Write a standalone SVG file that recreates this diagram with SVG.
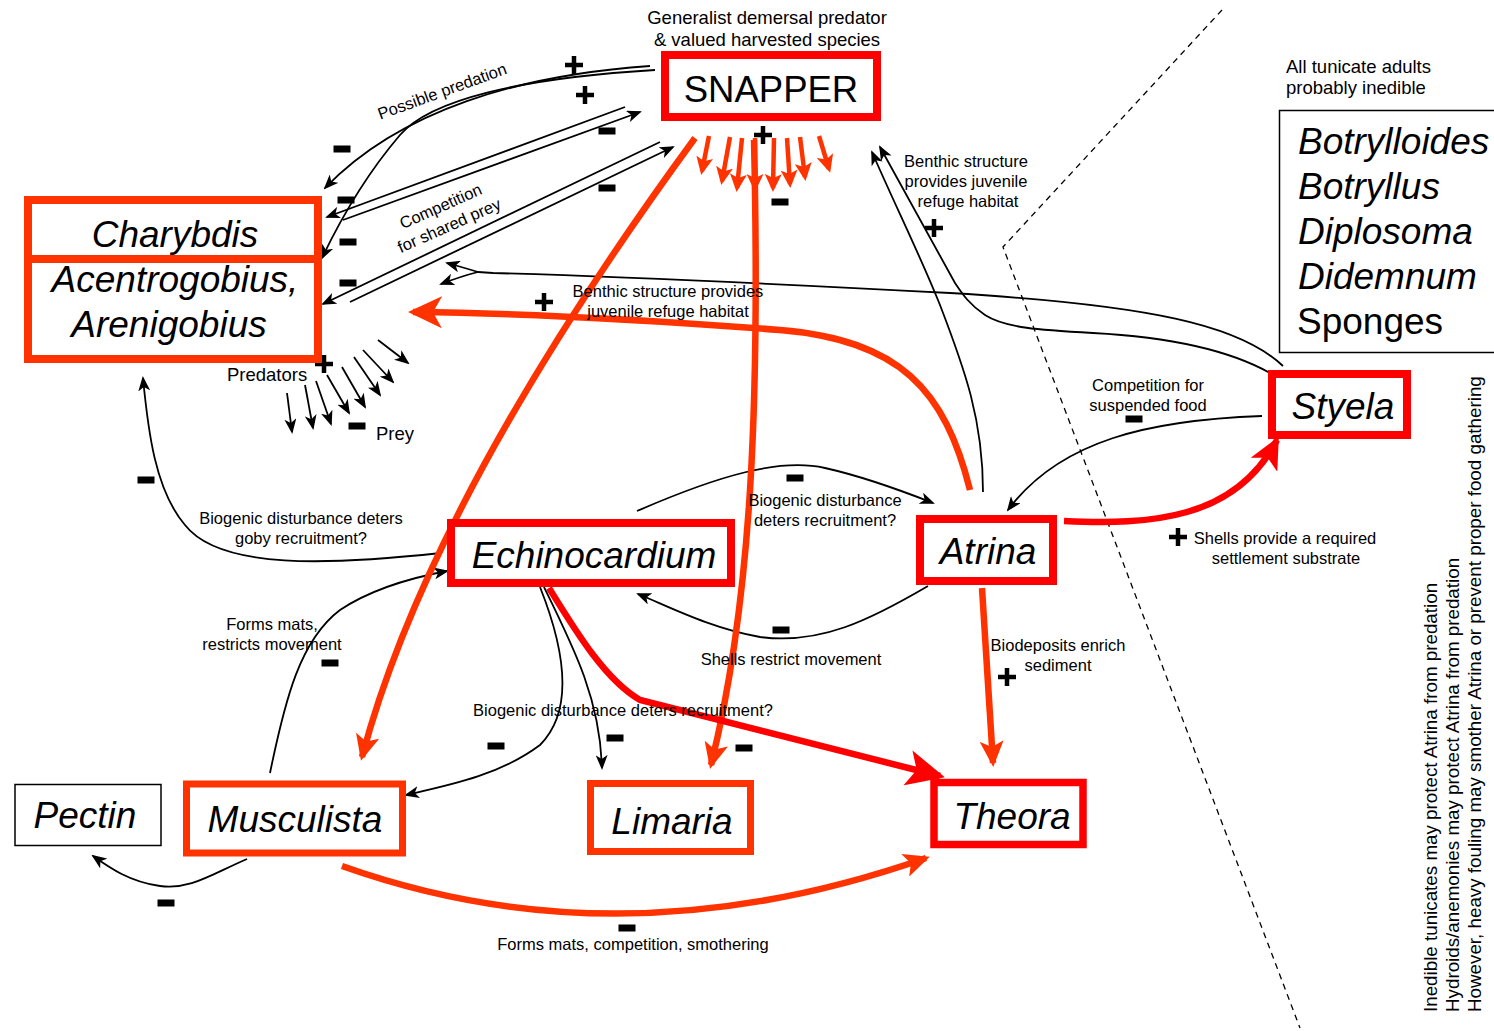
<svg xmlns="http://www.w3.org/2000/svg" width="1494" height="1031" viewBox="0 0 1494 1031">
<style>
text{font-family:"Liberation Sans",Arial,sans-serif;fill:#000}
.lb{font-size:16.5px}
.tl{font-size:18.5px}
.sd{font-size:18.8px}
.nd{font-size:37px;font-style:italic}
.bk{fill:none;stroke:#000;stroke-width:1.8}
.or{fill:none;stroke:#ff3300;stroke-width:6.5}
.rd{fill:none;stroke:#ff0000;stroke-width:6.5}
.fo{fill:none;stroke:#ff3300;stroke-width:4.5}
.bo{fill:#fff;stroke:#ff3300;stroke-width:8}
.br{fill:#fff;stroke:#ff0000;stroke-width:8}
</style>
<defs>
<marker id="ab" markerUnits="userSpaceOnUse" markerWidth="15" markerHeight="12" refX="13" refY="6" orient="auto" viewBox="0 0 15 12"><path d="M0,0 L15,6 L0,12 L4,6 z" fill="#000"/></marker>
<marker id="as" markerUnits="userSpaceOnUse" markerWidth="18" markerHeight="17" refX="14" refY="8.5" orient="auto" viewBox="0 0 18 17"><path d="M0,0 L18,8.5 L0,17 L4,8.5 z" fill="#ff3300"/></marker>
<marker id="ao" markerUnits="userSpaceOnUse" markerWidth="26" markerHeight="24" refX="22" refY="12" orient="auto" viewBox="0 0 26 24"><path d="M0,0 L26,12 L0,24 L6,12 z" fill="#ff3300"/></marker>
<marker id="aol" markerUnits="userSpaceOnUse" markerWidth="34" markerHeight="32" refX="29" refY="16" orient="auto" viewBox="0 0 34 32"><path d="M0,0 L34,16 L0,32 L9,16 z" fill="#ff3300"/></marker>
<marker id="ar" markerUnits="userSpaceOnUse" markerWidth="38" markerHeight="36" refX="33" refY="18" orient="auto" viewBox="0 0 38 36"><path d="M0,0 L38,18 L0,36 L9,18 z" fill="#ff0000"/></marker>
<marker id="ar2" markerUnits="userSpaceOnUse" markerWidth="32" markerHeight="30" refX="28" refY="15" orient="auto" viewBox="0 0 32 30"><path d="M0,0 L32,15 L0,30 L8,15 z" fill="#ff0000"/></marker>
<g id="plus"><path d="M-9,0 H9 M0,-9 V9" stroke="#000" stroke-width="4.5" fill="none"/></g>
<rect id="minus" x="-8.5" y="-3.5" width="17" height="7" fill="#000"/>
</defs>
<rect width="1494" height="1031" fill="#fff"/>

<!-- dashed separator -->
<path d="M1222,10 L1003,247 L1300,1028" fill="none" stroke="#000" stroke-width="1.3" stroke-dasharray="6,5"/>

<g id="connectors">
<path class="bk" d="M650,66 C520,75 400,110 325,188" marker-end="url(#ab)"/>
<path class="bk" d="M655,70 C520,78 430,100 400,135 C370,170 345,210 322,258" marker-end="url(#ab)"/>
<path class="bk" d="M625,107 L327,217" marker-end="url(#ab)"/>
<path class="bk" d="M343,220 L640,112" marker-end="url(#ab)"/>
<path class="bk" d="M660,142 L323,304" marker-end="url(#ab)"/>
<path class="bk" d="M350,302 L673,147" marker-end="url(#ab)"/>
<path class="bk" d="M1283,366 C1240,325 1150,305 950,293 C800,285 600,276 493,273 L478,272"/>
<path class="bk" d="M478,272 Q465,268 447,263" marker-end="url(#ab)"/>
<path class="bk" d="M478,272 Q462,276 441,284" marker-end="url(#ab)"/>
<path class="bk" d="M1270,373 C1220,345 1150,336 1093,333 C1040,330 1005,328 985,315 C970,305 963,295 955,283 L880,147" marker-end="url(#ab)"/>
<path class="bk" d="M983,492 C983,420 965,370 940,305 C920,255 895,205 872,152" marker-end="url(#ab)"/>
<path class="bk" d="M1262,416 C1150,420 1060,440 1008,510" marker-end="url(#ab)"/>
<path class="bk" d="M441,553 C330,565 220,570 185,525 C155,490 148,430 143,378" marker-end="url(#ab)"/>
<path class="bk" d="M270,773 C285,700 300,640 340,610 C370,590 410,578 447,571" marker-end="url(#ab)"/>
<path class="bk" d="M637,511 C720,475 780,458 825,468 C865,477 900,490 933,503" marker-end="url(#ab)"/>
<path class="bk" d="M928,586 C870,620 820,645 760,637 C710,628 670,607 638,594" marker-end="url(#ab)"/>
<path class="bk" d="M540,587 C565,650 575,710 540,745 C500,775 450,785 406,795" marker-end="url(#ab)"/>
<path class="bk" d="M544,587 C575,650 600,700 602,768" marker-end="url(#ab)"/>
<path class="bk" d="M247,859 C210,875 190,890 160,886 C130,882 110,868 93,856" marker-end="url(#ab)"/>
<path class="bk" d="M287,393 L292,432" marker-end="url(#ab)"/>
<path class="bk" d="M305,385 L313,428" marker-end="url(#ab)"/>
<path class="bk" d="M316,381 L331,424" marker-end="url(#ab)"/>
<path class="bk" d="M327,375 L349,413" marker-end="url(#ab)"/>
<path class="bk" d="M342,367 L365,407" marker-end="url(#ab)"/>
<path class="bk" d="M354,357 L380,395" marker-end="url(#ab)"/>
<path class="bk" d="M363,350 L393,382" marker-end="url(#ab)"/>
<path class="bk" d="M378,340 L408,363" marker-end="url(#ab)"/>
<path class="or" d="M695,138 Q430,500 362,757" marker-end="url(#ao)"/>
<path class="or" d="M754,140 C760,400 752,600 711,765" marker-end="url(#ao)"/>
<path class="or" d="M970,490 C945,390 900,340 780,330 C650,320 520,313 413,312" marker-end="url(#aol)"/>
<path class="or" d="M982,588 L993,763" marker-end="url(#ao)"/>
<path class="or" d="M342,866 Q620,965 926,858" marker-end="url(#ao)"/>
<path class="fo" d="M709,136 L702,171" marker-end="url(#as)"/>
<path class="fo" d="M730,137 L722,181" marker-end="url(#as)"/>
<path class="fo" d="M742,138 L737,188" marker-end="url(#as)"/>
<path class="fo" d="M755,138 L755,188" marker-end="url(#as)"/>
<path class="fo" d="M774,138 L773,188" marker-end="url(#as)"/>
<path class="fo" d="M787,138 L790,184" marker-end="url(#as)"/>
<path class="fo" d="M800,137 L805,177" marker-end="url(#as)"/>
<path class="fo" d="M819,136 L829,169" marker-end="url(#as)"/>
<path class="rd" d="M549,588 C575,630 605,680 640,700 L940,776" marker-end="url(#ar)"/>
<path class="rd" d="M1064,521 C1150,525 1235,520 1277,440" marker-end="url(#ar2)"/>
</g>

<g id="signs">
<use href="#plus" x="574" y="65"/>
<use href="#plus" x="585" y="95"/>
<use href="#plus" x="763" y="135"/>
<use href="#plus" x="324" y="364"/>
<use href="#plus" x="544" y="302"/>
<use href="#plus" x="934" y="228"/>
<use href="#plus" x="1178" y="537"/>
<use href="#plus" x="1007" y="677"/>
<use href="#minus" x="342" y="149"/>
<use href="#minus" x="346" y="200"/>
<use href="#minus" x="348" y="242"/>
<use href="#minus" x="348" y="283"/>
<use href="#minus" x="607" y="131"/>
<use href="#minus" x="607" y="188"/>
<use href="#minus" x="780" y="202"/>
<use href="#minus" x="357" y="426"/>
<use href="#minus" x="146" y="480"/>
<use href="#minus" x="330" y="663"/>
<use href="#minus" x="795" y="478"/>
<use href="#minus" x="781" y="630"/>
<use href="#minus" x="1134" y="419"/>
<use href="#minus" x="496" y="746"/>
<use href="#minus" x="615" y="738"/>
<use href="#minus" x="744" y="748"/>
<use href="#minus" x="627" y="928"/>
<use href="#minus" x="166" y="903"/>
</g>

<g id="labels">
<text class="tl" x="767" y="24" text-anchor="middle">Generalist demersal predator</text>
<text class="tl" x="767" y="46" text-anchor="middle">&amp; valued harvested species</text>
<text class="lb" x="442" y="97" text-anchor="middle" transform="rotate(-20 442 91)">Possible predation</text>
<g transform="rotate(-24 445 216)">
<text class="lb" x="445" y="211" text-anchor="middle">Competition</text>
<text class="lb" x="445" y="232" text-anchor="middle">for shared prey</text>
</g>
<text class="lb" x="668" y="297" text-anchor="middle">Benthic structure provides</text>
<text class="lb" x="668" y="317" text-anchor="middle">juvenile refuge habitat</text>
<text class="lb" x="966" y="167" text-anchor="middle">Benthic structure</text>
<text class="lb" x="966" y="187" text-anchor="middle">provides juvenile</text>
<text class="lb" x="968" y="207" text-anchor="middle">refuge habitat</text>
<text class="lb" x="1148" y="391" text-anchor="middle">Competition for</text>
<text class="lb" x="1148" y="411" text-anchor="middle">suspended food</text>
<text class="lb" x="1285" y="544" text-anchor="middle">Shells provide a required</text>
<text class="lb" x="1286" y="564" text-anchor="middle">settlement substrate</text>
<text class="lb" x="301" y="524" text-anchor="middle">Biogenic disturbance deters</text>
<text class="lb" x="301" y="544" text-anchor="middle">goby recruitment?</text>
<text class="lb" x="272" y="630" text-anchor="middle">Forms mats,</text>
<text class="lb" x="272" y="650" text-anchor="middle">restricts movement</text>
<text class="lb" x="825" y="506" text-anchor="middle">Biogenic disturbance</text>
<text class="lb" x="825" y="526" text-anchor="middle">deters recruitment?</text>
<text class="lb" x="791" y="665" text-anchor="middle">Shells restrict movement</text>
<text class="lb" x="623" y="716" text-anchor="middle">Biogenic disturbance deters recruitment?</text>
<text class="lb" x="1058" y="651" text-anchor="middle">Biodeposits enrich</text>
<text class="lb" x="1058" y="671" text-anchor="middle">sediment</text>
<text class="lb" x="633" y="950" text-anchor="middle">Forms mats, competition, smothering</text>
<text class="tl" x="227" y="381">Predators</text>
<text class="tl" x="376" y="440">Prey</text>
<text class="tl" x="1286" y="73">All tunicate adults</text>
<text class="tl" x="1286" y="94">probably inedible</text>
<g transform="rotate(-90)">
<text class="sd" x="-1012" y="1437">Inedible tunicates may protect Atrina from predation</text>
<text class="sd" x="-1012" y="1459">Hydroids/anemonies may protect Atrina from predation</text>
<text class="sd" x="-1012" y="1481">However, heavy fouling may smother Atrina or prevent proper food gathering</text>
</g>
</g>

<g id="snapper">
<rect class="br" x="665" y="55" width="212" height="62"/>
<text x="771" y="102" text-anchor="middle" font-size="36.5">SNAPPER</text>
</g>
<g id="charybdis">
<rect class="bo" x="28" y="200" width="290" height="59"/>
<text class="nd" x="175" y="247" text-anchor="middle">Charybdis</text>
</g>
<g id="gobies">
<rect class="bo" x="28" y="259" width="290" height="100"/>
<text class="nd" x="175" y="292" text-anchor="middle">Acentrogobius,</text>
<text class="nd" x="169" y="337" text-anchor="middle">Arenigobius</text>
</g>
<g id="echinocardium">
<rect class="br" x="451" y="523" width="280" height="60"/>
<text class="nd" x="594" y="568" text-anchor="middle">Echinocardium</text>
</g>
<g id="atrina">
<rect class="br" x="920" y="519" width="133" height="62"/>
<text class="nd" x="988" y="564" text-anchor="middle">Atrina</text>
</g>
<g id="styela">
<rect class="br" x="1272" y="374" width="135" height="61"/>
<text class="nd" x="1343" y="419" text-anchor="middle">Styela</text>
</g>
<g id="tunicates">
<rect x="1279.5" y="110.5" width="230" height="242" fill="#fff" stroke="#000" stroke-width="1.5"/>
<text class="nd" x="1298" y="154">Botrylloides</text>
<text class="nd" x="1298" y="199">Botryllus</text>
<text class="nd" x="1298" y="244">Diplosoma</text>
<text class="nd" x="1298" y="289">Didemnum</text>
<text x="1297" y="334" font-size="37">Sponges</text>
</g>
<g id="musculista">
<rect x="186.5" y="784" width="216" height="69" fill="#fff" stroke="#ff3300" stroke-width="7"/>
<text class="nd" x="295" y="832" text-anchor="middle">Musculista</text>
</g>
<g id="pectin">
<rect x="15" y="784.5" width="146" height="61" fill="#fff" stroke="#000" stroke-width="1.5"/>
<text class="nd" x="85" y="828" text-anchor="middle">Pectin</text>
</g>
<g id="limaria">
<rect x="590.5" y="783.5" width="160" height="68" fill="#fff" stroke="#ff3300" stroke-width="7"/>
<text class="nd" x="672" y="834" text-anchor="middle">Limaria</text>
</g>
<g id="theora">
<rect x="934" y="782.5" width="149" height="62" fill="#fff" stroke="#ff0000" stroke-width="7.5"/>
<text class="nd" x="1012" y="829" text-anchor="middle">Theora</text>
</g>
</svg>
